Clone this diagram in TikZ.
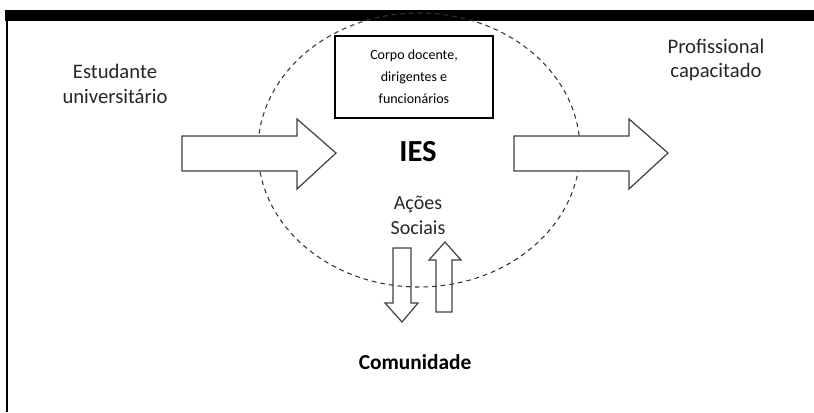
\documentclass[tikz,border=0pt]{standalone}
\usepackage{fontspec}
\setmainfont{Carlito}
\usetikzlibrary{calc,positioning}

\begin{document}
\begin{tikzpicture}[x=0.75pt,y=-0.75pt]

\tikzset{plaintext/.style={font=\fontsize{15.5}{18.5}\selectfont,align=center,inner sep=0pt,text=black!85},
boldtext/.style={font=\bfseries\fontsize{16}{19}\selectfont,inner sep=0pt},
staffbox/.style={draw,line width=0.9pt,align=center,font=\fontsize{10.5}{16.5}\selectfont,minimum width=118.5pt,minimum height=61.5pt,inner sep=0pt},
bigarrow/.style={draw=black!75,line width=0.9pt,line join=miter},
iesline/.style={draw=black!80,line width=0.8pt,dash pattern=on 3.5pt off 3pt}}

\useasboundingbox (0,0) rectangle (814,412);

% Frame
\fill (5,10) rectangle (814,21);
\draw[line width=1.4pt] (7,21) -- (7,412);

% IES ellipse
\coordinate (ies) at (419,150);
\draw[iesline] (ies) ellipse [x radius=161, y radius=137];

% Texts
\node[plaintext] (student) at (115,84) {Estudante\\universitário};
\node[plaintext] (pro) at (716,60) {Profissional\\capacitado};
\node[staffbox] (staff) at (414,77) {Corpo docente,\\dirigentes e\\funcionários};
\node[boldtext,font=\bfseries\fontsize{23}{26}\selectfont] (iesname) at (418,152) {IES};
\node[plaintext,font=\fontsize{15}{18.75}\selectfont] (actions) at (418,215) {Ações\\Sociais};
\node[boldtext] (community) at (415,362) {Comunidade};

% Horizontal arrows
\foreach \x in {182,514} \draw[bigarrow,fill=white] (\x,136) -- ++(115,0) -- ++(0,-17) -- ++(39,34) -- ++(-39,36) -- ++(0,-18) -- ++(-115,0) -- cycle;

% Vertical arrows
\draw[bigarrow] (393,248) -- (411,248) -- (411,303) -- (418,303) -- (402,322) -- (385,303) -- (393,303) -- cycle; % down
\draw[bigarrow] (436,312) -- (436,260) -- (429,260) -- (445,242) -- (461,260) -- (452,260) -- (452,312) -- cycle; % up

\end{tikzpicture}
\end{document}
